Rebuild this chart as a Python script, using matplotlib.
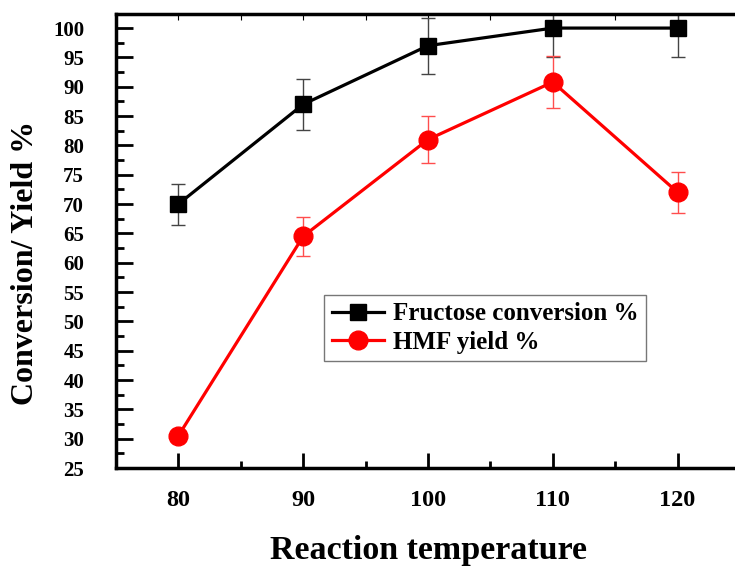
import matplotlib
matplotlib.use("Agg")
import matplotlib.pyplot as plt
from matplotlib.ticker import MultipleLocator

temps = [80, 90, 100, 110, 120]
fructose = [70, 87, 97, 100, 100]
fructose_err = [3.5, 4.3, 4.8, 5.0, 5.0]
hmf = [30.5, 64.5, 81, 90.8, 72]
hmf_err = [0.0, 3.3, 4.0, 4.5, 3.5]
yticks = list(range(25, 101, 5))
xticks = [80, 90, 100, 110, 120]

plt.rcParams['font.family'] = ['Liberation Serif', 'DejaVu Serif']
plt.rcParams['font.weight'] = 'bold'

fig = plt.figure(figsize=(7.35, 5.68), dpi=100)
ax = fig.add_axes([116/735, 100/568, 624/735, 454/568])

ax.errorbar(temps, fructose, yerr=fructose_err, fmt='none', ecolor='#444444',
            elinewidth=1.0, capsize=5, capthick=1.0, zorder=2)
ax.errorbar(temps, hmf, yerr=hmf_err, fmt='none', ecolor='#ff4d4d',
            elinewidth=1.0, capsize=5, capthick=1.0, zorder=2)
ax.plot(temps, fructose, color='black', lw=2.3, marker='s', ms=11.5,
        label='Fructose conversion %', zorder=3)
ax.plot(temps, hmf, color='red', lw=2.3, marker='o', ms=13.5,
        label='HMF yield %', zorder=3)

ax.set_xlim(75, 125)
ax.set_ylim(25, 102.4)
ax.set_xticks(xticks)
ax.set_yticks(yticks)
ax.xaxis.set_minor_locator(MultipleLocator(5))
ax.yaxis.set_minor_locator(MultipleLocator(2.5))

for s in ['left', 'bottom', 'top']:
    ax.spines[s].set_linewidth(2.5)
ax.spines['right'].set_visible(False)

ax.tick_params(axis='y', which='major', direction='in', length=12, width=2, pad=23, labelsize=15)
ax.tick_params(axis='y', which='minor', direction='in', length=6, width=2)
ax.tick_params(axis='x', which='major', direction='in', length=11, width=2, pad=16, labelsize=17.5,
               top=True)
ax.tick_params(axis='x', which='minor', direction='in', length=5, width=2, top=True)
for t in ax.xaxis.get_major_ticks() + ax.xaxis.get_minor_ticks():
    t.tick2line.set_markersize(4)
    t.tick2line.set_markeredgewidth(0.8)
    t.tick2line.set_color('#777777')
for lab in ax.get_xticklabels() + ax.get_yticklabels():
    lab.set_fontweight('bold')

ax.set_xlabel('Reaction temperature', fontsize=24.5, fontweight='bold')
ax.xaxis.set_label_coords(0.5, -(535 - 468) / 454)
ax.set_ylabel('Conversion/ Yield %', fontsize=23, fontweight='bold')
ax.yaxis.set_label_coords((40 - 116) / 624, (468 - 263) / 454)

leg = ax.legend(loc='upper left', bbox_to_anchor=((324-116)/624, (468-295)/454),
                fontsize=18, frameon=True, fancybox=False, edgecolor='#555555',
                handlelength=2.1, borderpad=0.3, labelspacing=0.2, handletextpad=0.35,
                borderaxespad=0)
leg.get_frame().set_linewidth(1.0)

fig.savefig('out.png', dpi=100)
